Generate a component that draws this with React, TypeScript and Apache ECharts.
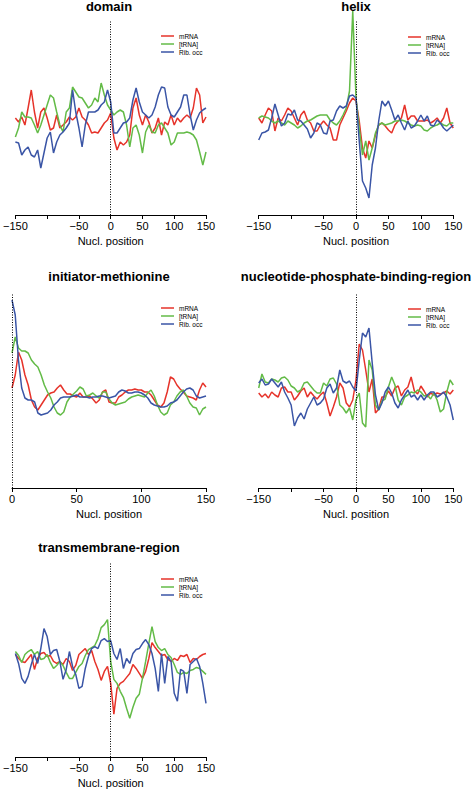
import React, { useEffect, useRef } from "react";
import * as echarts from "echarts";

// Sample positions (nucleotides)
const POS_FULL = [
  -150, -145, -140, -135, -130, -125, -120, -115, -110, -105,
  -100, -95, -90, -85, -80, -75, -70, -65, -60, -55,
  -50, -45, -40, -35, -30, -25, -20, -15, -10, -5,
  0, 5, 10, 15, 20, 25, 30, 35, 40, 45,
  50, 55, 60, 65, 70, 75, 80, 85, 90, 95,
  100, 105, 110, 115, 120, 125, 130, 135, 140, 145,
  150,
];
const POS_START = [
  0, 2.5, 5, 7.5, 10, 12.5, 15, 17.5, 20, 22.5,
  25, 27.5, 30, 32.5, 35, 37.5, 40, 42.5, 45, 47.5,
  50, 52.5, 55, 57.5, 60, 62.5, 65, 67.5, 70, 72.5,
  75, 77.5, 80, 82.5, 85, 87.5, 90, 92.5, 95, 97.5,
  100, 102.5, 105, 107.5, 110, 112.5, 115, 117.5, 120, 122.5,
  125, 127.5, 130, 132.5, 135, 137.5, 140, 142.5, 145, 147.5,
  150,
];

const SERIES_NAMES = ["mRNA", "[tRNA]", "Rib. occ"];
const X_TITLE = "Nucl. position";

// domain
const DOMAIN_MRNA = [97,93,98,90,107,125,103,87,103,107,97,85,87,100,87,90,93,98,95,98,107,98,95,90,82,83,82,87,92,95,102,77,65,73,70,73,80,107,117,100,90,100,93,82,87,97,80,93,90,100,90,97,93,97,100,97,107,127,120,92,98];
const DOMAIN_TRNA = [78,87,103,98,98,97,90,82,90,100,110,120,117,103,90,83,103,107,128,123,118,117,112,107,110,117,113,132,120,110,105,100,103,105,103,90,68,87,90,80,62,83,90,83,82,90,92,87,82,70,73,82,82,82,83,82,80,75,63,50,63];
const DOMAIN_RIB = [73,72,60,65,68,60,58,65,47,62,77,83,62,73,80,83,87,92,125,103,87,68,90,103,103,103,105,110,113,125,113,82,82,87,92,93,97,115,127,113,103,100,97,100,108,120,128,127,108,100,98,103,108,120,120,100,85,95,102,105,107];

// helix
const HELIX_MRNA = [97,92,100,107,104,84,97,94,100,107,104,97,90,100,104,95,92,84,84,90,94,90,87,75,75,90,97,104,112,117,114,94,67,57,74,67,80,90,92,89,85,82,90,94,97,110,95,99,99,94,94,94,95,92,94,97,92,97,107,92,87];
const HELIX_TRNA = [97,99,98,97,94,92,94,92,90,94,92,90,87,89,92,94,95,97,99,100,100,100,95,92,90,94,100,107,124,204,117,87,60,74,55,67,82,90,92,90,91,92,94,94,95,94,92,90,89,90,89,85,84,87,89,90,92,90,89,92,92];
const HELIX_RIB = [75,82,83,85,97,111,100,89,92,101,100,105,95,94,90,86,77,82,92,90,82,81,94,95,104,109,107,109,119,120,117,74,34,27,17,50,67,94,114,109,114,105,95,100,92,85,94,87,89,94,100,94,99,90,89,95,92,87,84,87,90];

// initiator-methionine
const INIT_MRNA = [100,113,136,128,113,103,88,81,78,83,88,93,95,96,100,103,98,94,94,92,91,95,91,91,92,89,85,88,96,98,86,85,85,91,93,96,98,98,99,98,98,96,96,93,88,83,81,85,96,111,109,103,99,96,92,91,90,88,98,105,101];
const INIT_TRNA = [135,151,140,137,137,135,128,124,121,113,103,96,90,81,75,73,76,86,91,94,97,101,99,92,93,95,92,90,96,96,89,85,83,84,85,86,89,91,92,93,92,91,95,98,92,83,76,73,75,83,86,92,96,98,92,85,81,80,73,79,81];
const INIT_RIB = [188,173,128,100,90,88,88,86,75,73,74,75,78,83,86,90,91,91,91,92,93,91,91,91,90,91,91,92,92,91,90,91,92,96,98,97,95,95,96,96,95,93,90,85,83,82,81,81,82,85,86,88,92,96,99,100,98,92,90,91,92];

// nucleotide-phosphate-binding-region
const NPB_MRNA = [95,91,94,90,96,93,91,100,101,96,96,88,92,97,100,91,96,92,89,93,96,85,72,81,91,105,100,85,81,88,108,144,138,118,96,109,75,79,91,91,97,92,100,102,92,98,101,111,97,94,102,97,91,95,93,95,94,95,97,94,98];
const NPB_TRNA = [100,114,106,105,109,108,106,110,111,108,102,100,96,98,105,106,102,98,95,95,105,102,109,110,104,83,80,75,80,68,88,95,65,61,128,118,83,78,87,89,101,111,103,88,83,91,93,96,95,98,96,92,93,89,95,88,76,79,96,108,103];
const NPB_RIB = [105,109,103,104,109,105,101,106,96,90,83,62,70,75,69,79,85,91,83,85,89,100,104,95,100,118,107,105,107,101,97,128,155,151,160,125,93,78,85,96,101,95,85,80,88,93,98,91,93,88,93,88,93,96,96,91,93,96,91,83,68];

// transmembrane-region
const TM_MRNA = [103,99,96,95,99,103,88,99,104,105,101,102,96,94,96,93,99,96,87,92,103,106,109,103,107,96,88,77,86,91,74,43,69,74,76,80,84,93,89,84,79,86,99,115,110,106,102,103,98,96,99,97,102,101,103,95,99,98,101,103,104];
const TM_TRNA = [106,102,95,103,106,108,103,106,98,99,103,95,89,92,96,92,85,79,79,85,91,94,102,108,110,112,119,130,133,138,96,78,74,66,60,49,39,50,59,63,79,96,114,131,116,110,107,109,103,100,93,85,83,85,84,87,88,90,89,86,83];
const TM_RIB = [104,94,79,74,81,93,103,94,109,129,121,103,107,108,96,78,88,106,91,83,69,71,89,101,109,111,109,117,119,116,117,104,98,109,89,99,94,104,108,109,114,118,113,104,89,66,104,74,101,96,64,56,88,86,64,93,96,99,91,74,54];

const PANELS = [
  { title: "domain", pos: POS_FULL, min: -150, max: 150, values: [DOMAIN_MRNA, DOMAIN_TRNA, DOMAIN_RIB] },
  { title: "helix", pos: POS_FULL, min: -150, max: 150, values: [HELIX_MRNA, HELIX_TRNA, HELIX_RIB] },
  { title: "initiator-methionine", pos: POS_START, min: 0, max: 150, values: [INIT_MRNA, INIT_TRNA, INIT_RIB] },
  { title: "nucleotide-phosphate-binding-region", pos: POS_FULL, min: -150, max: 150, values: [NPB_MRNA, NPB_TRNA, NPB_RIB] },
  { title: "transmembrane-region", pos: POS_FULL, min: -150, max: 150, values: [TM_MRNA, TM_TRNA, TM_RIB] },
];

// layout (pixels)
const LAYOUT = [
  { left: 12, top: 10, width: 194, titleY: 6, legendLeft: 161, legendTop: 32 },
  { left: 258.7, top: 10, width: 194.6, titleY: 6, legendLeft: 408, legendTop: 33 },
  { left: 12, top: 283, width: 194, titleY: 276, legendLeft: 161, legendTop: 304 },
  { left: 258.7, top: 283, width: 194.6, titleY: 276, legendLeft: 408, legendTop: 305 },
  { left: 12, top: 553, width: 194, titleY: 547, legendLeft: 161, legendTop: 575 },
];
const GRID_H = 205;
const Y_MAX = 205;
const ZERO_LINE_TOP = 195;
const COLORS = ["#e6332a", "#63bb47", "#3a55a6"];
const FONT = '"Liberation Sans", Arial, Helvetica, sans-serif';

export default function App() {
  const ref = useRef<HTMLDivElement>(null);

  useEffect(() => {
    if (!ref.current) return;
    const chart = echarts.init(ref.current, null, { renderer: "svg" });

    const grid = LAYOUT.map((l) => ({ left: l.left, top: l.top, width: l.width, height: GRID_H }));
    const xAxis = PANELS.map((p, k) => ({
      gridIndex: k,
      type: "value",
      min: p.min,
      max: p.max,
      interval: 50,
      axisLine: { show: true, onZero: false, lineStyle: { color: "#000", width: 1 } },
      axisTick: { show: true, length: 4, lineStyle: { color: "#000", width: 1 } },
      axisLabel: {
        fontSize: 11,
        color: "#000",
        margin: 5,
        fontFamily: FONT,
        showMinLabel: true,
        showMaxLabel: true,
        formatter: (v: number) => (v === -100 ? "" : v < 0 ? "\u2212" + Math.abs(v) : String(v)),
      },
      splitLine: { show: false },
      name: X_TITLE,
      nameLocation: "middle",
      nameGap: 20,
      nameTextStyle: { fontSize: 11, color: "#000", fontFamily: FONT },
    }));
    const yAxis = PANELS.map((_, k) => ({ gridIndex: k, type: "value", min: 0, max: Y_MAX, show: false }));

    const series: any[] = [];
    PANELS.forEach((p, k) => {
      p.values.forEach((vals, s) => {
        const item: any = {
          name: SERIES_NAMES[s],
          type: "line",
          xAxisIndex: k,
          yAxisIndex: k,
          symbol: "none",
          showSymbol: false,
          lineStyle: { width: 1.5, color: COLORS[s] },
          itemStyle: { color: COLORS[s] },
          data: p.pos.map((x, i) => [x, vals[i]]),
        };
        if (s === 0) {
          item.markLine = {
            silent: true,
            symbol: ["none", "none"],
            label: { show: false },
            lineStyle: { color: "#000", width: 1, type: [1, 1.5] },
            data: [[{ coord: [0, 0] }, { coord: [0, ZERO_LINE_TOP] }]],
          };
        }
        series.push(item);
      });
    });

    const legend = LAYOUT.map((l) => ({
      data: SERIES_NAMES,
      orient: "vertical",
      left: l.legendLeft,
      top: l.legendTop,
      padding: 0,
      itemGap: 0,
      itemWidth: 13,
      itemHeight: 1.5,
      icon: "rect",
      selectedMode: false,
      textStyle: { fontSize: 6.5, color: "#000", fontFamily: FONT, lineHeight: 8 },
    }));

    const graphic = PANELS.map((p, k) => ({
      type: "text",
      x: LAYOUT[k].left + LAYOUT[k].width / 2,
      y: LAYOUT[k].titleY,
      style: {
        text: p.title,
        font: 'bold 13px "Liberation Sans", Arial, Helvetica, sans-serif',
        fill: "#000",
        textAlign: "center",
        textVerticalAlign: "middle",
        align: "center",
        verticalAlign: "middle",
      },
    }));

    chart.setOption({
      animation: false,
      backgroundColor: "#fff",
      grid,
      xAxis,
      yAxis,
      series,
      legend,
      graphic,
    });

    return () => chart.dispose();
  }, []);

  return (
    <div
      ref={ref}
      style={{ position: "absolute", left: 0, top: 0, width: 473, height: 789, background: "#fff" }}
    />
  );
}
